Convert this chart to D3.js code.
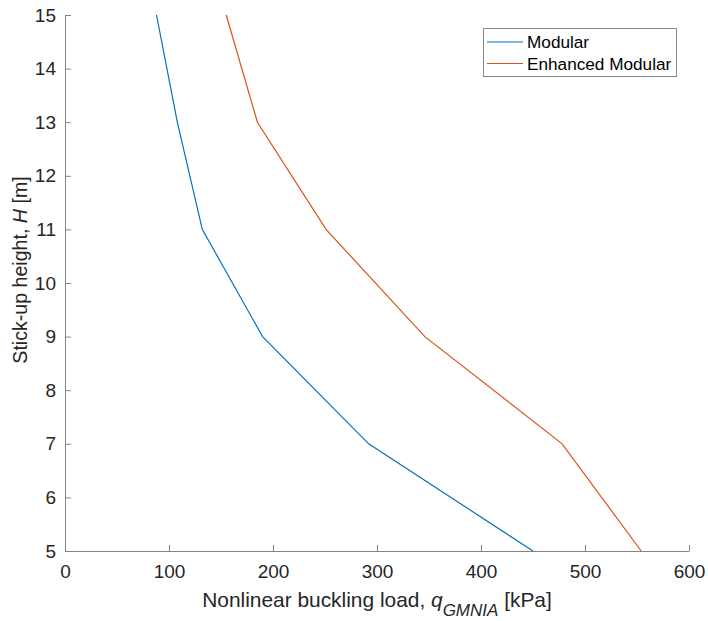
<!DOCTYPE html>
<html>
<head>
<meta charset="utf-8">
<script src="https://cdn.jsdelivr.net/npm/d3@7/dist/d3.min.js"></script>
<style>
  html, body { margin: 0; padding: 0; background: #fff; }
  svg { display: block; font-family: "Liberation Sans", Arial, Helvetica, sans-serif; }
</style>
</head>
<body>
<svg id="chart" width="708" height="621"></svg>
<script>
// Stick-up heights (m) and buckling loads (kPa) for each model
const heights = [15, 13, 11, 9, 7, 5];
const modularLoad = [88, 108, 132, 190, 292, 450];
const enhancedLoad = [155, 185, 251, 346, 478, 554];
const seriesNames = ["Modular", "Enhanced Modular"];
const seriesColors = ["#0072BD", "#D95319"];
const xTicks = [0, 100, 200, 300, 400, 500, 600];
const yTicks = [5, 6, 7, 8, 9, 10, 11, 12, 13, 14, 15];

const svg = d3.select("#chart");
const margin = { left: 65, right: 19, top: 15, bottom: 70 };
const W = 708, H = 621;

const x = d3.scaleLinear().domain([0, 600]).range([margin.left, W - margin.right]);
const y = d3.scaleLinear().domain([5, 15]).range([H - margin.bottom, margin.top]);

const axisColor = "#262626";
const lineGrey = "#858585";

// x axis (ticks pointing inward)
const gx = svg.append("g")
  .attr("transform", `translate(0,${y(5)})`)
  .call(d3.axisBottom(x).tickValues(xTicks).tickSizeInner(-6).tickSizeOuter(0).tickPadding(14));
gx.select(".domain").attr("stroke", lineGrey);
gx.selectAll(".tick line").attr("stroke", lineGrey);
gx.selectAll(".tick text").attr("fill", axisColor).attr("font-size", 19);

// y axis
const gy = svg.append("g")
  .attr("transform", `translate(${x(0)},0)`)
  .call(d3.axisLeft(y).tickValues(yTicks).tickSizeInner(-6).tickSizeOuter(0).tickPadding(9));
gy.select(".domain").attr("stroke", lineGrey);
gy.selectAll(".tick line").attr("stroke", lineGrey);
gy.selectAll(".tick text").attr("fill", axisColor).attr("font-size", 19);

// series lines
const line = d3.line().x(d => x(d[0])).y(d => y(d[1]));
[modularLoad, enhancedLoad].forEach((loads, i) => {
  svg.append("path")
    .datum(loads.map((v, k) => [v, heights[k]]))
    .attr("fill", "none")
    .attr("stroke", seriesColors[i])
    .attr("stroke-width", 1.2)
    .attr("d", line);
});

// axis titles
const xl = svg.append("text")
  .attr("x", (x(0) + x(600)) / 2)
  .attr("y", 607)
  .attr("text-anchor", "middle")
  .attr("font-size", 20.9)
  .attr("fill", axisColor);
xl.append("tspan").text("Nonlinear buckling load, ");
xl.append("tspan").attr("font-style", "italic").text("q");
xl.append("tspan").attr("font-style", "italic").attr("font-size", 17).attr("dy", 9).text("GMNIA");
xl.append("tspan").attr("dy", -9).text(" [kPa]");

const yl = svg.append("text")
  .attr("transform", `translate(27,270) rotate(-90)`)
  .attr("text-anchor", "middle")
  .attr("font-size", 19.6)
  .attr("fill", axisColor);
yl.append("tspan").text("Stick-up height, ");
yl.append("tspan").attr("font-style", "italic").text("H");
yl.append("tspan").text(" [m]");

// legend
const lg = svg.append("g");
lg.append("rect")
  .attr("x", 483.5).attr("y", 28.5).attr("width", 193).attr("height", 48)
  .attr("fill", "#fff").attr("stroke", lineGrey).attr("stroke-width", 1);
seriesNames.forEach((name, i) => {
  const ly = 42 + i * 21.5;
  lg.append("line")
    .attr("x1", 487).attr("x2", 523).attr("y1", ly).attr("y2", ly)
    .attr("stroke", seriesColors[i]).attr("stroke-width", 1.2);
  lg.append("text")
    .attr("x", 527).attr("y", ly + 6)
    .attr("font-size", 17.2)
    .attr("fill", "#000")
    .text(name);
});
</script>
</body>
</html>
